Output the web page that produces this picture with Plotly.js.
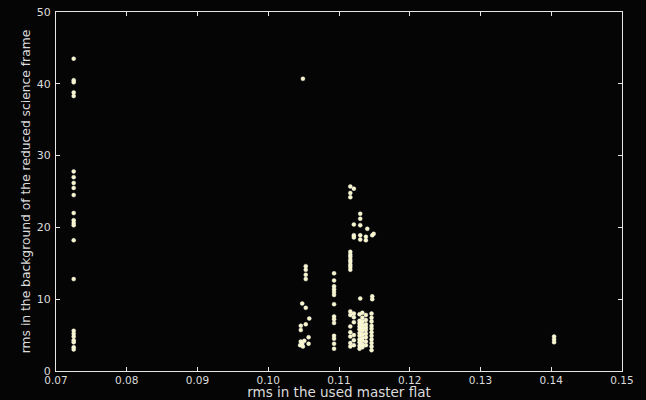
<!DOCTYPE html>
<html>
<head>
<meta charset="utf-8">
<script src="https://cdn.plot.ly/plotly-3.0.1.min.js"></script>
<style>
html,body{margin:0;padding:0;background:#050505;}
#chart{width:646px;height:400px;}
</style>
</head>
<body>
<div id="chart"></div>
<script>
// Column at rms flat ~0.0725
const colAx = 0.0725;
const colAy = [43.5, 40.5, 40.2, 38.8, 38.3, 27.8, 27.0, 26.2, 25.5, 24.5, 22.0, 21.0, 20.6, 20.3, 18.2, 12.8, 5.6, 5.2, 4.8, 4.3, 4.0, 3.3, 3.0];

// Cluster near 0.105
const clusterBx = [0.1049, 0.1053, 0.1053, 0.1053, 0.1053, 0.1048, 0.1053, 0.1058, 0.1053, 0.1046, 0.1046, 0.1057, 0.1046, 0.1048, 0.1045, 0.1049, 0.1057, 0.1051];
const clusterBy = [40.7, 14.6, 14.1, 13.4, 12.8, 9.4, 8.8, 7.3, 6.5, 6.3, 5.7, 4.7, 4.1, 3.8, 3.6, 3.4, 3.8, 4.2];

// Column at ~0.1093
const colCx = 0.1093;
const colCy = [13.6, 12.6, 11.8, 11.4, 11.0, 10.6, 9.3, 7.6, 7.2, 6.7, 4.9, 4.5, 3.8, 3.1];

// Upper part of cluster near 0.112-0.115
const clusterDx = [0.1116, 0.1116, 0.1116, 0.1121, 0.1116, 0.1116, 0.1116, 0.1116, 0.1116, 0.1116, 0.1116, 0.1116,
                   0.1130, 0.1130, 0.1121, 0.1130, 0.1140, 0.1121, 0.1121, 0.1130, 0.1130, 0.1138, 0.1138, 0.1147, 0.1149,
                   0.1130, 0.1147, 0.1147];
const clusterDy = [25.7, 24.8, 24.2, 25.4, 16.6, 16.2, 15.9, 15.5, 15.2, 14.8, 14.5, 14.1,
                   21.9, 21.2, 20.4, 20.3, 19.8, 18.9, 18.6, 18.9, 18.3, 18.7, 18.2, 18.9, 19.1,
                   10.1, 10.4, 10.0];

// Dense lower cluster, by sub-column
const denseX = [0.1116, 0.1121, 0.1129, 0.1133, 0.1138, 0.1146];
const denseY = [
  [8.3, 7.8, 6.2, 5.4, 4.8, 3.9, 3.4],
  [8.0, 7.5, 6.8, 5.0, 4.3, 3.6],
  [7.9, 7.0, 6.6, 6.2, 5.8, 5.3, 4.9, 4.4, 4.0, 3.5, 3.1],
  [8.1, 7.4, 6.9, 6.4, 6.0, 5.6, 5.1, 4.6, 4.2, 3.7, 3.3],
  [7.8, 7.1, 6.5, 6.1, 5.7, 5.2, 4.7, 4.1, 3.6],
  [8.0, 7.4, 6.9, 6.3, 5.9, 5.4, 4.9, 4.4, 3.9, 3.4, 2.9]
];

// Point group near 0.14
const colEx = 0.1404;
const colEy = [4.8, 4.4, 4.0];

const xTicks = [0.07, 0.08, 0.09, 0.10, 0.11, 0.12, 0.13, 0.14, 0.15];
const xTickText = ['0.07', '0.08', '0.09', '0.10', '0.11', '0.12', '0.13', '0.14', '0.15'];
const yTicks = [0, 10, 20, 30, 40, 50];

// assemble
const xs = [], ys = [];
colAy.forEach(v => { xs.push(colAx); ys.push(v); });
clusterBx.forEach((x, i) => { xs.push(x); ys.push(clusterBy[i]); });
colCy.forEach(v => { xs.push(colCx); ys.push(v); });
clusterDx.forEach((x, i) => { xs.push(x); ys.push(clusterDy[i]); });
denseX.forEach((x, i) => denseY[i].forEach(v => { xs.push(x); ys.push(v); }));
colEy.forEach(v => { xs.push(colEx); ys.push(v); });

const axisCol = '#e6e6e6';
const txtCol = '#dcdcdc';
const fam = 'DejaVu Sans, sans-serif';

Plotly.newPlot('chart', [{
  type: 'scatter', mode: 'markers', x: xs, y: ys,
  marker: {size: 4, color: '#f7f5c6', line: {color: '#ffffff', width: 0.4}},
  hoverinfo: 'x+y'
}], {
  width: 646, height: 400,
  paper_bgcolor: '#050505', plot_bgcolor: '#050505',
  margin: {l: 56, r: 24, t: 12, b: 29},
  showlegend: false,
  xaxis: {
    range: [0.07, 0.15], tickvals: xTicks, ticktext: xTickText,
    showgrid: false, zeroline: false,
    showline: true, linecolor: axisCol, linewidth: 1.1, mirror: 'ticks',
    ticks: 'inside', ticklen: 4, tickcolor: axisCol, tickwidth: 1,
    tickfont: {family: fam, size: 10.5, color: txtCol}, ticklabelstandoff: -1,
    title: {text: 'rms in the used master flat', font: {family: fam, size: 13.5, color: txtCol}, standoff: 3}
  },
  yaxis: {
    range: [0, 50], tickvals: yTicks,
    showgrid: false, zeroline: false,
    showline: true, linecolor: axisCol, linewidth: 1.1, mirror: 'ticks',
    ticks: 'inside', ticklen: 4, tickcolor: axisCol, tickwidth: 1,
    tickfont: {family: fam, size: 11, color: txtCol}, ticklabelstandoff: 2,
    title: {text: 'rms in the background of the reduced science frame', font: {family: fam, size: 12.3, color: txtCol}, standoff: 3}
  }
}, {displayModeBar: false, staticPlot: true});
</script>
</body>
</html>
